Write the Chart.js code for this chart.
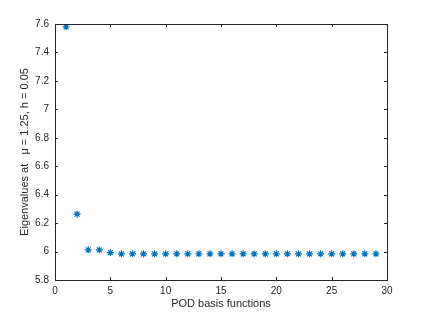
<!DOCTYPE html>
<html>
<head>
<meta charset="utf-8">
<script src="https://cdn.jsdelivr.net/npm/chart.js@4"></script>
<style>
  html, body { margin: 0; padding: 0; background: #fff; }
  #wrap { width: 428px; height: 315px; }
</style>
</head>
<body>
<div id="wrap"><canvas id="chart" width="428" height="315"></canvas></div>
<script>
// POD basis function index and eigenvalues
const basisIndex = [1, 2, 3, 4, 5, 6, 7, 8, 9, 10, 11, 12, 13, 14, 15, 16, 17, 18, 19, 20,
  21, 22, 23, 24, 25, 26, 27, 28, 29];
const eigenvalues = [7.58, 6.263, 6.012, 6.012, 5.993, 5.984, 5.984, 5.984, 5.984, 5.984,
  5.984, 5.984, 5.984, 5.984, 5.984, 5.984, 5.984, 5.984, 5.984, 5.984,
  5.984, 5.984, 5.984, 5.984, 5.984, 5.984, 5.984, 5.984, 5.984];

const xTitle = "POD basis functions";
const yTitle = "Eigenvalues at   \u03bc = 1.25, h = 0.05";

const textColor = "#262626";
const axisColor = "#262626";
const font = { family: "'Liberation Sans', Helvetica, Arial, sans-serif", size: 10 };

// draws the MATLAB-style box with inward ticks on all four sides
const boxPlugin = {
  id: "box",
  afterDraw(chart) {
    const { ctx, chartArea: a, scales } = chart;
    ctx.save();
    ctx.strokeStyle = axisColor;
    ctx.lineWidth = 1;
    ctx.strokeRect(Math.round(a.left) + 0.5, Math.round(a.top) + 0.5,
      Math.round(a.right - a.left), Math.round(a.bottom - a.top));
    const len = 3;
    ctx.beginPath();
    scales.x.ticks.forEach(t => {
      const px = Math.round(scales.x.getPixelForValue(t.value)) + 0.5;
      ctx.moveTo(px, a.bottom); ctx.lineTo(px, a.bottom - len);
      ctx.moveTo(px, a.top); ctx.lineTo(px, a.top + len);
    });
    scales.y.ticks.forEach(t => {
      const py = Math.round(scales.y.getPixelForValue(t.value)) + 0.5;
      ctx.moveTo(a.left, py); ctx.lineTo(a.left + len, py);
      ctx.moveTo(a.right, py); ctx.lineTo(a.right - len, py);
    });
    ctx.stroke();
    ctx.restore();
  }
};

const chart = new Chart(document.getElementById("chart"), {
  type: "scatter",
  data: {
    datasets: [
      {
        label: "eigenvalues",
        data: basisIndex.map((x, i) => ({ x: x, y: eigenvalues[i] })),
        pointStyle: "star",
        radius: 3.5,
        borderColor: "#0072BD",
        backgroundColor: "#0072BD",
        borderWidth: 1.2,
      },
    ],
  },
  options: {
    responsive: false,
    animation: false,
    layout: { padding: { left: 0, top: 24, right: 41, bottom: 0 } },
    plugins: {
      legend: { display: false },
      tooltip: { enabled: false },
    },
    scales: {
      x: {
        type: "linear",
        min: 0,
        max: 30,
        ticks: { stepSize: 5, color: textColor, font: font, padding: 5 },
        grid: { display: false, drawTicks: false },
        border: { display: false },
        title: { display: true, text: xTitle, color: textColor, font: { ...font, size: 11 }, padding: { top: 3 } },
        afterFit: (s) => { s.height = 35; },
      },
      y: {
        min: 5.8,
        max: 7.6,
        ticks: {
          stepSize: 0.2,
          color: textColor,
          font: font,
          padding: 6,
          callback: (v) => String(Number(v.toFixed(1))),
        },
        grid: { display: false, drawTicks: false },
        border: { display: false },
        title: { display: true, text: yTitle, color: textColor, font: { ...font, size: 11 }, padding: { top: 18, bottom: 0 } },
        afterFit: (s) => { s.width = 55; },
      },
    },
  },
  plugins: [boxPlugin],
});
</script>
</body>
</html>
